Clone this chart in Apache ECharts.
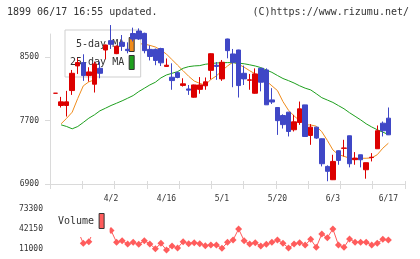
<!DOCTYPE html>
<html>
<head>
<meta charset="UTF-8">
<title></title>
<script type="text/javascript" src="https://cdn.jsdelivr.net/npm/echarts@6.0.0/dist/echarts.min.js"></script>
<style>body{margin:0;background:#fff}</style>
</head>
<body>
<div id="main" style="width: 420px;height: 259px;"></div>
<script type="text/javascript">
var dates = ['3/19','3/20','3/23','3/24','3/25','3/26','3/27','3/30','3/31','4/1',
	'4/2','4/3','4/6','4/7','4/8','4/9','4/10','4/13','4/14','4/15',
	'4/16','4/17','4/20','4/21','4/22','4/23','4/24','4/27','4/28','4/30',
	'5/1','5/7','5/8','5/11','5/12','5/13','5/14','5/15','5/18','5/19',
	'5/20','5/21','5/22','5/25','5/26','5/27','5/28','5/29','6/1','6/2',
	'6/3','6/4','6/5','6/8','6/9','6/10','6/11','6/12','6/15','6/16',
	'6/17'];
var dateLabels = ['4/2','4/16','5/1','5/20','6/3','6/17'];

var opens = [8046,7891,7891,8080,8391,8433,8269,8160,8361,8592,
	8710,8546,8689,8601,8800,8831,8802,8600,8600,8610,
	8385,8248,8306,8145,8100,7996,8095,8140,8335,8400,
	8227,8731,8542,8592,8298,8210,8046,8361,8340,7962,
	7866,7765,7807,7585,7677,7899,7513,7618,7471,7122,
	6954,7320,7350,7509,7207,7269,7080,7234,7345,7668,
	7731];
var closes = [8046,7937,7937,8298,8433,8269,8315,8416,8298,8655,
	8664,8639,8639,8584,8730,8731,8584,8510,8460,8430,
	8400,8206,8245,8165,8085,8151,8151,8190,8545,8385,
	8437,8584,8437,8143,8227,8215,8290,8185,7900,7935,
	7700,7650,7563,7685,7849,7500,7618,7480,7156,7060,
	7185,7198,7355,7156,7227,7206,7169,7238,7572,7572,
	7521];
var lows = [8046,7866,7752,8025,8290,8202,8193,8055,8235,8475,
	8605,8540,8580,8550,8700,8720,8550,8460,8400,8390,
	8380,8090,8235,8130,8025,7990,8040,8090,8220,8215,
	8202,8487,8122,7992,8150,8090,8040,8070,7899,7910,
	7520,7600,7500,7563,7647,7498,7395,7470,7122,6935,
	6950,7143,7248,7110,7143,7110,6967,7185,7345,7500,
	7521];
var highs = [8046,8000,8076,8340,8487,8538,8374,8445,8445,8660,
	8907,8650,8781,8689,8874,8865,8810,8650,8610,8620,
	8485,8424,8320,8235,8150,8155,8250,8245,8550,8440,
	8466,8735,8605,8595,8395,8290,8360,8365,8360,8110,
	7870,7780,7810,7773,7941,7900,7656,7620,7475,7135,
	7269,7325,7458,7510,7303,7270,7170,7290,7639,7689,
	7866];
var ma5 = ['-',7660,7730,7807,7980,8139,8190,8214,8300,8380,
	8470,8540,8600,8630,8650,8670,8668,8650,8630,8590,
	8540,8470,8400,8330,8260,8200,8170,8150,8220,8265,
	8330,8390,8440,8410,8375,8330,8290,8255,8200,8140,
	8080,7940,7830,7760,7700,7648,7645,7630,7560,7450,
	7330,7270,7250,7225,7210,7225,7225,7230,7270,7352,
	7415];
var ma25 = ['-',7647,7626,7597,7626,7677,7731,7773,7824,7857,
	7891,7920,7950,7983,8017,8067,8109,8151,8185,8240,
	8277,8298,8319,8361,8382,8391,8395,8412,8420,8428,
	8431,8433,8431,8426,8418,8405,8390,8370,8340,8310,
	8270,8232,8205,8175,8140,8110,8088,8040,7990,7960,
	7930,7890,7850,7800,7755,7710,7660,7620,7585,7555,
	7525];
var volumes = [38000,42000,40000,48000,40000,19800,22400,42000,38000,44000,
	40000,21400,24000,18800,21400,18300,24000,18800,11500,19800,
	9400,15700,12600,22400,19300,20900,19300,16200,17200,17200,
	12000,21400,25000,42150,24000,18800,20900,15700,18300,21400,
	25000,19800,12600,18800,20900,17200,26000,13600,34400,28700,
	42150,17200,13600,26600,21400,21400,21400,17200,19800,26000,
	25000];
var priceTicks = [6900, 7700, 8500];
var volumeTicks = [11000, 42150, 73300];

var mono = 'DejaVu Sans Mono';
var red = '#dc0000', blue = '#3f47c6', orange = '#f08c1c', green = '#1ea01e', volColor = '#ff5c5c';
var gridColor = '#dadada';

// category axis padded: one slot before, three after
var cats = ['_s'].concat(dates, ['_e1', '_e2', '_e3']);

var candleData = [], ma5Data = [], ma25Data = [], volData = [];
for (var i = 0; i < dates.length; i++) {
	candleData.push([i + 1, opens[i], closes[i], lows[i], highs[i]]);
	if (ma5[i] !== '-') ma5Data.push([i + 1, ma5[i]]);
	if (ma25[i] !== '-') ma25Data.push([i + 1, ma25[i]]);
	volData.push([i + 1, volumes[i]]);
}

function plain(v) { return String(v); }

var myChart = echarts.init(document.getElementById('main'));
myChart.setOption({
	animation: false,
	backgroundColor: '#fff',
	title: [
		{text: '1899 06/17 16:55 updated.', left: 7, top: 7, padding: 0,
			textStyle: {fontFamily: mono, fontSize: 10, fontWeight: 'normal', color: '#333'}},
		{text: '(C)https://www.rizumu.net/', right: 11, top: 7, padding: 0,
			textStyle: {fontFamily: mono, fontSize: 10, fontWeight: 'normal', color: '#333'}}
	],
	legend: [
		{
			orient: 'vertical', left: 65, top: 30, align: 'right',
			itemWidth: 5, itemHeight: 14, itemGap: 3,
			padding: [7, 6, 7, 5],
			borderColor: '#cfcfcf', borderWidth: 1, backgroundColor: '#fff',
			icon: 'rect', selectedMode: false,
			itemStyle: {borderColor: '#333', borderWidth: 1},
			textStyle: {fontFamily: mono, fontSize: 10, color: '#333'},
			data: ['5-day MA', '25-day MA']
		},
		{
			orient: 'vertical', left: 49, top: 208, align: 'right',
			itemWidth: 5, itemHeight: 15,
			padding: [5, 5, 8, 9],
			backgroundColor: '#fff',
			icon: 'rect', selectedMode: false,
			itemStyle: {borderColor: '#333', borderWidth: 1},
			textStyle: {fontFamily: mono, fontSize: 10, color: '#333'},
			data: ['Volume']
		}
	],
	grid: [
		{left: 50, right: 15, top: 34, bottom: 75},
		{left: 50, right: 15, top: 209, bottom: 4}
	],
	xAxis: [
		{
			type: 'category', gridIndex: 0, data: cats, boundaryGap: false,
			axisLine: {show: false}, axisTick: {show: false}, splitLine: {show: false},
			axisLabel: {
				interval: function (idx, val) { return dateLabels.indexOf(val) >= 0; },
				fontFamily: mono, fontSize: 8, color: '#333', margin: 11
			}
		},
		{
			type: 'value', gridIndex: 0, min: 0, max: 11, interval: 1, position: 'bottom',
			axisLine: {show: true, lineStyle: {color: gridColor}},
			axisTick: {show: true, length: 5, lineStyle: {color: gridColor}},
			axisLabel: {show: false}, splitLine: {show: false}
		},
		{
			type: 'value', gridIndex: 0, min: 0, max: 11, interval: 1, position: 'bottom',
			axisLine: {show: false},
			axisTick: {show: true, inside: true, length: 3, lineStyle: {color: gridColor}},
			axisLabel: {show: false}, splitLine: {show: false}
		},
		{
			type: 'category', gridIndex: 1, data: cats, boundaryGap: false,
			axisLine: {show: false}, axisTick: {show: false}, axisLabel: {show: false}, splitLine: {show: false}
		}
	],
	yAxis: [
		{
			type: 'value', gridIndex: 0, min: 6900, max: 8794,
			axisLine: {show: true, lineStyle: {color: gridColor}},
			axisTick: {show: true, length: 5, customValues: priceTicks, lineStyle: {color: gridColor}},
			axisLabel: {customValues: priceTicks, formatter: plain, fontFamily: mono, fontSize: 8, color: '#333', margin: 11},
			splitLine: {show: false}
		},
		{
			type: 'value', gridIndex: 0, min: 6900, max: 8794,
			axisLine: {show: false},
			axisTick: {show: true, inside: true, length: 3, customValues: priceTicks, lineStyle: {color: gridColor}},
			axisLabel: {show: false}, splitLine: {show: false}
		},
		{
			type: 'value', gridIndex: 1, min: 1655, max: 73300,
			axisLine: {show: false}, axisTick: {show: false}, splitLine: {show: false},
			axisLabel: {customValues: volumeTicks, formatter: plain, fontFamily: mono, fontSize: 8, color: '#333', margin: 7}
		}
	],
	series: [
		{
			name: '5-day MA', type: 'line', xAxisIndex: 0, yAxisIndex: 0, z: 2,
			data: ma5Data, symbol: 'none', color: orange,
			lineStyle: {width: 1, color: orange}, itemStyle: {color: orange}
		},
		{
			name: '25-day MA', type: 'line', xAxisIndex: 0, yAxisIndex: 0, z: 2,
			data: ma25Data, symbol: 'none', color: green,
			lineStyle: {width: 1, color: green}, itemStyle: {color: green}
		},
		{
			name: 'price', type: 'candlestick', xAxisIndex: 0, yAxisIndex: 0, z: 6,
			clip: false, barWidth: 5,
			data: candleData, encode: {x: 0, y: [1, 2, 3, 4]},
			itemStyle: {color: red, color0: blue, borderColor: red, borderColor0: blue, borderColorDoji: red, borderWidth: 1}
		},
		{
			name: 'Volume', type: 'line', xAxisIndex: 3, yAxisIndex: 2, z: 2,
			data: volData, symbol: 'diamond', symbolSize: 7, showSymbol: true, showAllSymbol: true,
			color: volColor,
			lineStyle: {width: 1, color: volColor}, itemStyle: {color: volColor}
		}
	]
});
</script>
</body>
</html>
